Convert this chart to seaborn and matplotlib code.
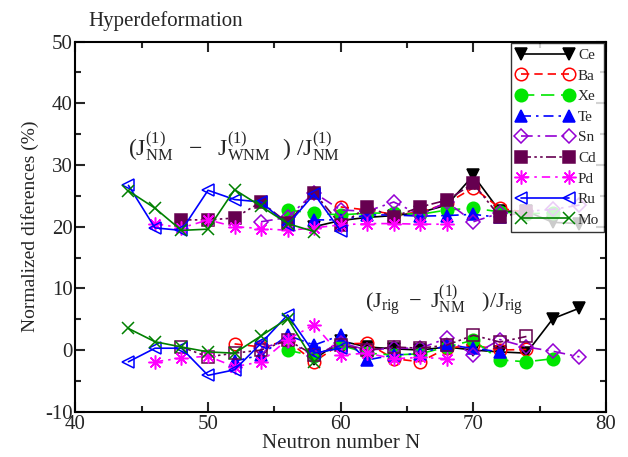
import matplotlib
matplotlib.use("Agg")
import matplotlib.pyplot as plt
import seaborn as sns
from matplotlib.ticker import MultipleLocator

# data: (J_NM - J_WNM)/J_NM  ("top") and (J_rig - J_NM)/J_rig  ("bot")
ce_n = [58, 60, 62, 64, 66, 68, 70, 72, 74, 76, 78]
ce_top = [20.0, 21.0, 21.5, 21.8, 22.3, 23.5, 28.3, 22.5, 22.5, 20.7, 20.5]
ce_bot = [-1.5, 1.5, 0.5, 0.2, 0.0, 0.5, 0.0, -0.3, -0.5, 5.1, 6.8]

ba_n_top = [60, 62, 64, 66, 68, 70, 72, 74]
ba_top = [23.2, 22.7, 22.0, 22.3, 23.8, 26.3, 23.0, 22.3]
ba_n_bot = [52, 54, 56, 58, 60, 62, 64, 66, 68, 70, 72, 74]
ba_bot = [1.0, 0.5, 1.5, -1.9, 1.0, 1.1, -1.4, -1.9, 0.3, 0.8, 0.0, 0.1]

xe_n = [56, 58, 60, 62, 64, 66, 68, 70, 72, 74, 76]
xe_top = [22.7, 22.2, 21.9, 22.2, 22.2, 22.0, 22.7, 23.0, 22.4, 22.1, 22.2]
xe_bot = [0.0, -1.0, 0.8, -0.5, -0.8, -0.6, 0.5, 1.6, -1.6, -1.9, -1.4]

te_n_top = [58, 60, 62, 64, 66, 68, 70, 72]
te_top = [21.1, 21.1, 21.9, 21.9, 21.7, 21.8, 22.0, 21.5]
te_n_bot = [52, 54, 56, 58, 60, 62, 64, 66, 68, 70, 72]
te_bot = [-1.8, -0.8, 2.4, 0.8, 2.4, -1.6, -0.8, -0.6, 0.8, 0.3, -0.3]

sn_n = [54, 56, 58, 60, 62, 64, 66, 68, 70, 72, 74, 76, 78]
sn_top = [20.8, 21.5, 25.5, 22.7, 22.5, 24.0, 21.9, 24.0, 20.8, 22.2, 22.5, 22.8, 23.5]
sn_bot = [0.3, 1.5, -1.0, 1.2, 0.0, 0.3, 0.3, 1.9, -0.8, 1.7, 0.5, -0.2, -1.1]

cd_n = [48, 50, 52, 54, 56, 58, 60, 62, 64, 66, 68, 70, 72, 74]
cd_top = [21.1, 21.1, 21.4, 24.0, 20.6, 25.5, 20.3, 23.2, 21.6, 23.2, 24.3, 27.0, 21.6, 22.4]
cd_bot = [0.5, -1.1, -0.5, 0.0, 1.6, -0.8, 0.8, 0.0, 0.5, 0.3, 0.8, 2.4, 1.3, 2.2]

pd_n = [46, 48, 50, 52, 54, 56, 58, 60, 62, 64, 66, 68]
pd_top = [20.5, 19.8, 21.1, 20.0, 19.7, 19.4, 19.8, 20.3, 20.5, 20.5, 20.4, 20.4]
pd_bot = [-1.9, -1.3, -1.0, -2.7, -1.9, 1.7, 4.1, -0.8, -0.5, -1.4, -1.2, -1.4]

ru_n = [44, 46, 48, 50, 52, 54, 56, 58, 60]
ru_top = [26.7, 19.8, 19.4, 25.9, 24.4, 24.0, 20.3, 25.3, 19.3]
ru_bot = [-1.9, 0.3, 0.3, -4.1, -3.2, 1.1, 5.7, -0.5, 0.3]

mo_n = [44, 46, 48, 50, 52, 54, 56, 58]
mo_top = [25.8, 23.0, 19.4, 19.6, 26.0, 23.3, 20.5, 19.2]
mo_bot = [3.5, 1.35, 0.5, -0.3, -0.5, 2.3, 5.1, -1.9]

#%%
sns.set_style("ticks")
plt.rcParams['font.family'] = ['Liberation Serif', 'DejaVu Serif']
plt.rcParams['mathtext.fontset'] = 'custom'
plt.rcParams['mathtext.rm'] = 'Liberation Serif'
plt.rcParams['mathtext.it'] = 'Liberation Serif'
plt.rcParams['axes.unicode_minus'] = False

fig = plt.figure(figsize=(6.28, 4.57), dpi=100)
ax = fig.add_axes([0.120, 0.099, 0.845, 0.810])

asterisk = (8, 2, 0)
series = [
    ("Ce", ce_n, ce_top, ce_n, ce_bot, "black", "v", "-", "black", 9),
    ("Ba", ba_n_top, ba_top, ba_n_bot, ba_bot, "red", "o", (0, (5, 3)), "none", 9),
    ("Xe", xe_n, xe_top, xe_n, xe_bot, "#00e600", "o", (0, (8, 4)), "#00e600", 9),
    ("Te", te_n_top, te_top, te_n_bot, te_bot, "blue", "^", (0, (6, 3, 1.5, 3)), "blue", 9),
    ("Sn", sn_n, sn_top, sn_n, sn_bot, "#9400d3", "D", (0, (7, 3, 1.5, 3)), "none", 7),
    ("Cd", cd_n, cd_top, cd_n, cd_bot, "#660050", "s", (0, (6, 2, 1.5, 2, 1.5, 2)), "#660050", 8),
    ("Pd", pd_n, pd_top, pd_n, pd_bot, "magenta", asterisk, (0, (5, 3, 1.5, 3)), "magenta", 10),
    ("Ru", ru_n, ru_top, ru_n, ru_bot, "blue", "<", "-", "none", 9),
    ("Mo", mo_n, mo_top, mo_n, mo_bot, "#008000", "x", "-", "#008000", 8),
]

for name, nt, top, nb, bot, col, mk, ls, fc, ms in series:
    sns.lineplot(x=nt, y=top, ax=ax, color=col, marker=mk, linestyle=ls,
                 markerfacecolor=fc, markeredgecolor=col, markersize=ms,
                 markeredgewidth=1.1, linewidth=1.2, label=name, sort=False)
    bot_fc = "none" if mk == "s" else fc
    sns.lineplot(x=nb, y=bot, ax=ax, color=col, marker=mk, linestyle=ls,
                 markerfacecolor=bot_fc, markeredgecolor=col, markersize=ms,
                 markeredgewidth=1.1, linewidth=1.2, sort=False)

ax.set_xlim(40, 80)
ax.set_ylim(-10, 50)
ax.xaxis.set_major_locator(MultipleLocator(10))
ax.xaxis.set_minor_locator(MultipleLocator(5))
ax.yaxis.set_major_locator(MultipleLocator(10))
ax.yaxis.set_minor_locator(MultipleLocator(5))
ax.tick_params(which='both', direction='in', top=True, right=True, labelsize=15, width=1.5)
ax.tick_params(which='major', length=7, pad=2)
ax.tick_params(which='minor', length=4)
for sp in ax.spines.values():
    sp.set_linewidth(1.5)
    sp.set_color('black')

ax.set_xlabel('Neutron number N', fontsize=15, labelpad=0)
ax.set_ylabel('Normalized diferences (%)', fontsize=14, labelpad=4)
fig.text(0.14, 0.955, 'Hyperdeformation', fontsize=15, va='center')

ax.text(44.0, 33.0, r'$(\mathrm{J}^{(1)}_{\mathrm{NM}}\ \ -\ \ \mathrm{J}^{(1)}_{\mathrm{WNM}}\ \ )\ /\mathrm{J}^{(1)}_{\mathrm{NM}}$',
        fontsize=17, va='center')
ax.text(61.8, 8.0, r'$(\mathrm{J}_{\mathrm{rig}}\ -\ \mathrm{J}^{(1)}_{\mathrm{NM}}\ \ \ )/\mathrm{J}_{\mathrm{rig}}$',
        fontsize=16, va='center')

leg = ax.legend(loc='upper right', fontsize=11, numpoints=2, handlelength=3.7,
                frameon=True, fancybox=False, borderpad=0.35, labelspacing=0.45,
                handletextpad=0.3, borderaxespad=0.1)
leg.get_frame().set_edgecolor('black')
leg.get_frame().set_linewidth(1.0)

plt.savefig('out.png', dpi=100)
